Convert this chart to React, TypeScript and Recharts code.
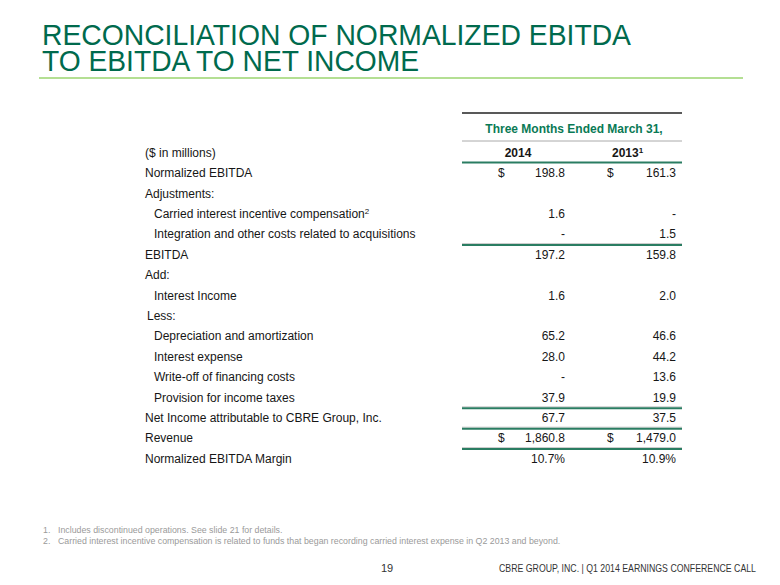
import { ComposedChart, Bar, XAxis, YAxis } from 'recharts';

const rowLabels = [
  'Normalized EBITDA',
  'Adjustments:',
  'Carried interest incentive compensation',
  'Integration and other costs related to acquisitions',
  'EBITDA',
  'Add:',
  'Interest Income',
  'Less:',
  'Depreciation and amortization',
  'Interest expense',
  'Write-off of financing costs',
  'Provision for income taxes',
  'Net Income attributable to CBRE Group, Inc.',
  'Revenue',
  'Normalized EBITDA Margin',
];

// 'item' rows are indented, 'heading' rows carry no values
const rowKinds = [
  'total', 'heading', 'item', 'item', 'total', 'heading', 'item', 'heading',
  'item', 'item', 'item', 'item', 'total', 'total', 'total',
];

const values2014 = [198.8, null, 1.6, 0, 197.2, null, 1.6, null, 65.2, 28.0, 0, 37.9, 67.7, 1860.8, 10.7];
const values2013 = [161.3, null, 0, 1.5, 159.8, null, 2.0, null, 46.6, 44.2, 13.6, 19.9, 37.5, 1479.0, 10.9];

const dollarRows = ['Normalized EBITDA', 'Revenue'];
const percentRows = ['Normalized EBITDA Margin'];
const ruledRows = [
  'Integration and other costs related to acquisitions',
  'Provision for income taxes',
  'Net Income attributable to CBRE Group, Inc.',
  'Revenue',
];
const footnoteRows: Record<string, string> = { 'Carried interest incentive compensation': '2' };

const titleLines = ['RECONCILIATION OF NORMALIZED EBITDA', 'TO EBITDA TO NET INCOME'];
const periodTitle = 'Three Months Ended March 31,';
const yearLabels = ['2014', '2013'];
const footnotes = [
  'Includes discontinued operations.  See slide 21 for details.',
  'Carried interest incentive compensation is related to funds that began recording carried interest expense in Q2 2013 and beyond.',
];

const data = rowLabels.map((label, i) => ({
  label,
  kind: rowKinds[i],
  v2014: values2014[i],
  v2013: values2013[i],
}));

const W = 780;
const H = 585;
const TOP = 163;
const BOTTOM = 469;
const ROW_H = (BOTTOM - TOP) / rowLabels.length;
const GREEN = '#006A4D';
const RULE = '#2A7D62';
const FONT = '"Liberation Sans", Arial, sans-serif';
const FS = 12;

const COL_2014 = 565;
const COL_2013 = 676;
const DOLLAR_2014 = 498;
const DOLLAR_2013 = 607;
const RULE_X1 = 462;
const RULE_X2 = 682;

function fmt(v: number | null, label: string) {
  if (v === null || v === undefined) return '';
  if (v === 0) return '-';
  const s = v.toLocaleString('en-US', { minimumFractionDigits: 1, maximumFractionDigits: 1 });
  return percentRows.includes(label) ? s + '%' : s;
}

function RowTick(props: any) {
  const { y, payload } = props;
  const row = data[payload.index];
  if (!row) return null;
  const lx = row.kind === 'item' ? 154 : row.label === 'Less:' ? 147 : 145;
  const base = y + 4;
  const sup = footnoteRows[row.label];
  return (
    <g>
      <text x={lx} y={base} fontSize={FS} fill="#161616" fontFamily={FONT}>
        {row.label}
        {sup && (
          <tspan fontSize={8} dy={-4}>
            {sup}
          </tspan>
        )}
      </text>
      {dollarRows.includes(row.label) && (
        <>
          <text x={DOLLAR_2014} y={base} fontSize={FS} fill="#161616" fontFamily={FONT}>$</text>
          <text x={DOLLAR_2013} y={base} fontSize={FS} fill="#161616" fontFamily={FONT}>$</text>
        </>
      )}
      <text x={COL_2014} y={base} fontSize={FS} fill="#161616" fontFamily={FONT} textAnchor="end">
        {fmt(row.v2014, row.label)}
      </text>
      <text x={COL_2013} y={base} fontSize={FS} fill="#161616" fontFamily={FONT} textAnchor="end">
        {fmt(row.v2013, row.label)}
      </text>
      {ruledRows.includes(row.label) && (
        <>
          <line x1={RULE_X1} x2={RULE_X2} y1={y + ROW_H / 2 - 1} y2={y + ROW_H / 2 - 1} stroke="#c8c8c8" strokeWidth={1} />
          <line x1={RULE_X1} x2={RULE_X2} y1={y + ROW_H / 2 + 0.5} y2={y + ROW_H / 2 + 0.5} stroke={RULE} strokeWidth={2} />
        </>
      )}
    </g>
  );
}

export default function App() {
  return (
    <div style={{ position: 'absolute', left: 0, top: 0, width: W, height: H, background: '#fff' }}>
      <ComposedChart
        width={W}
        height={H}
        data={data}
        layout="vertical"
        margin={{ top: TOP, bottom: H - BOTTOM, left: 0, right: 0 }}
      >
        <XAxis type="number" hide />
        <YAxis
          type="category"
          dataKey="label"
          width={100}
          axisLine={false}
          tickLine={false}
          interval={0}
          tick={<RowTick />}
        />
        <Bar dataKey="v2014" fillOpacity={0} isAnimationActive={false} />
      </ComposedChart>

      <svg
        width={W}
        height={H}
        style={{ position: 'absolute', left: 0, top: 0, pointerEvents: 'none' }}
      >
        <text fontSize={30} fill={GREEN} fontFamily={FONT}>
          <tspan x={42} y={45} textLength={589} lengthAdjust="spacingAndGlyphs">{titleLines[0]}</tspan>
          <tspan x={42} y={71} textLength={377} lengthAdjust="spacingAndGlyphs">{titleLines[1]}</tspan>
        </text>
        <line x1={39} x2={743} y1={78} y2={78} stroke="#9BD56F" strokeWidth={1.5} />

        <line x1={RULE_X1} x2={RULE_X2} y1={113} y2={113} stroke="#222" strokeWidth={1.5} />
        <text x={574} y={133} fontSize={FS} fontWeight="bold" fill="#0A7A55" fontFamily={FONT} textAnchor="middle">
          {periodTitle}
        </text>
        <line x1={RULE_X1} x2={RULE_X2} y1={141} y2={141} stroke="#aaa" strokeWidth={1} />

        <text x={145} y={157} fontSize={FS} fill="#161616" fontFamily={FONT}>($ in millions)</text>
        <text x={518} y={157} fontSize={FS} fontWeight="bold" fill="#161616" fontFamily={FONT} textAnchor="middle">
          {yearLabels[0]}
        </text>
        <text x={612} y={157} fontSize={FS} fontWeight="bold" fill="#161616" fontFamily={FONT}>
          {yearLabels[1]}
          <tspan fontSize={8} dy={-4}>1</tspan>
        </text>
        <line x1={RULE_X1} x2={RULE_X2} y1={162.5} y2={162.5} stroke={RULE} strokeWidth={2} />

        {footnotes.map((f, i) => (
          <g key={i}>
            <text x={43} y={533 + i * 11} fontSize={8.8} fill="#9a9a9a" fontFamily={FONT}>{`${i + 1}.`}</text>
            <text x={58} y={533 + i * 11} fontSize={8.8} fill="#9a9a9a" fontFamily={FONT}>{f}</text>
          </g>
        ))}

        <text x={387} y={572} fontSize={11} fill="#333" fontFamily={FONT} textAnchor="middle">19</text>
        <text transform="translate(499,572) scale(0.796,1)" fontSize={11} fill="#333" fontFamily={FONT}>
          CBRE GROUP, INC. | Q1 2014 EARNINGS CONFERENCE CALL
        </text>
      </svg>
    </div>
  );
}
